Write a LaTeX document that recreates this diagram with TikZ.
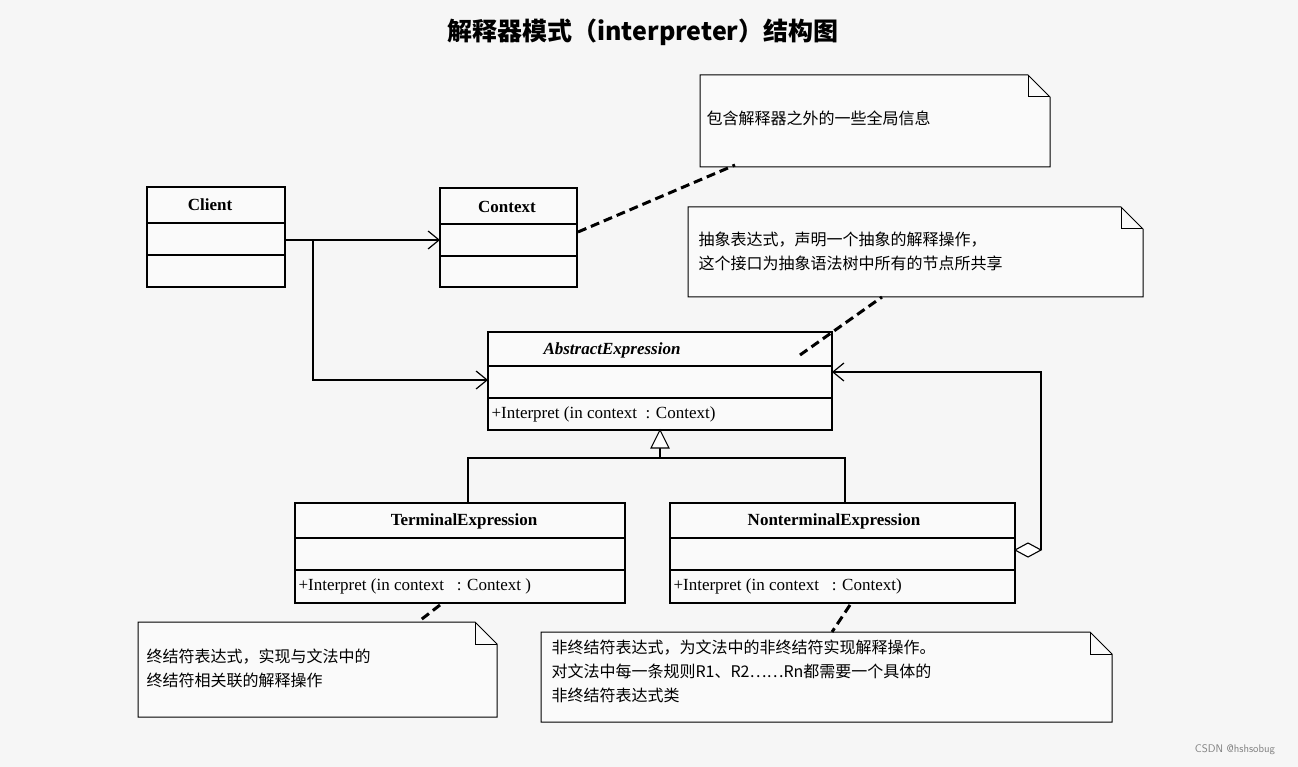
\documentclass[tikz,border=0pt]{standalone}
\usepackage{fontspec}
\setmainfont{Liberation Serif}
\newfontfamily\cjk{Noto Sans CJK SC}
\usetikzlibrary{arrows.meta}
\begin{document}
\begin{tikzpicture}[x=1pt,y=-1pt,
  bx/.style={draw=black,line width=1.3pt},
  cls/.style={font=\bfseries\fontsize{17}{20}\selectfont},
  op/.style={font=\fontsize{17}{20}\selectfont,anchor=west},
  nt/.style={font=\cjk\fontsize{16}{24}\selectfont,anchor=north west,align=left},
  dsh/.style={dash pattern=on 9pt off 5pt,line width=3pt},
  oa/.style={-{Straight Barb[length=11pt,width=18pt,line width=1.2pt]},line width=1.1pt}]
\fill[white!93!gray] (0,0) rectangle (1298,767);
\useasboundingbox (0,0) rectangle (1298,767);
\node[font=\cjk\bfseries\fontsize{25}{30}\selectfont] (title) at (643,32) {解释器模式（interpreter）结构图};
% notes
\newcommand{\notebox}[4]{\draw[line width=1pt,fill=white!96!gray] (#1,#2) -- (#3-22,#2) -- (#3,#2+22) -- (#3,#4) -- (#1,#4) -- cycle;
 \draw[line width=1pt] (#3-22,#2) -- (#3-22,#2+22) -- (#3,#2+22);}
\notebox{700}{75}{1050}{167}
\notebox{688}{207}{1143}{297}
\notebox{138}{622}{497}{717}
\notebox{541}{632}{1112}{722}
\node[nt] (n1) at (703,107) {包含解释器之外的一些全局信息};
\node[nt] (n2) at (695,228) {抽象表达式，声明一个抽象的解释操作，\\这个接口为抽象语法树中所有的节点所共享};
\node[nt] (n3) at (143,645) {终结符表达式，实现与文法中的\\终结符相关联的解释操作};
\node[nt] (n4) at (548,636) {非终结符表达式，为文法中的非终结符实现解释操作。\\对文法中每一条规则R1、R2……Rn都需要一个具体的\\非终结符表达式类};
% classes
\draw[bx,fill=white!96!gray] (147,187) rectangle (285,287); \draw[bx] (147,223)--(285,223) (147,255)--(285,255);
\node[cls] (client) at (210,205) {Client};
\draw[bx,fill=white!96!gray] (440,188) rectangle (577,287); \draw[bx] (440,224)--(577,224) (440,256)--(577,256);
\node[cls] (context) at (507,207) {Context};
\draw[bx,fill=white!96!gray] (488,332) rectangle (832,430); \draw[bx] (488,366)--(832,366) (488,398)--(832,398);
\node[cls,font=\bfseries\itshape\fontsize{17}{20}\selectfont] (abs) at (612,350) {AbstractExpression};
\node[op] (absop) at (488,414) {+Interpret (in context \ : Context)};
\draw[bx,fill=white!96!gray] (295,503) rectangle (625,603); \draw[bx] (295,538)--(625,538) (295,570)--(625,570);
\node[cls] (term) at (464,521) {TerminalExpression};
\node[op] (termop) at (295,586) {+Interpret (in context \ \ : Context )};
\draw[bx,fill=white!96!gray] (670,503) rectangle (1015,603); \draw[bx] (670,538)--(1015,538) (670,570)--(1015,570);
\node[cls] (nonterm) at (834,521) {NonterminalExpression};
\node[op] (ntop) at (670,586) {+Interpret (in context \ \ : Context)};
% connectors
\coordinate (c1) at (285,240); \coordinate (c2) at (440,240);
\draw[oa] (c1) -- (c2);
\coordinate (c3) at (313,240); \coordinate (c4) at (488,380);
\draw[oa] (c3) |- (c4);
\draw[line width=1.1pt] (468,503) -- (468,458) -- (845,458) -- (845,503);
\draw[line width=1.1pt] (660,458) -- (660,448);
\draw[line width=1.1pt,fill=white] (660,430) -- (651,448) -- (669,448) -- cycle;
\draw[line width=1.1pt,fill=white] (1015,550) -- (1028,543) -- (1041,550) -- (1028,557) -- cycle;
\coordinate (c5) at (1041,550); \coordinate (c6) at (832,372);
\draw[oa] (c5) -- (1041,372) -- (c6);
\draw[dsh] (578,232) -- (735,165);
\draw[dsh] (800,355) -- (882,297);
\draw[dsh] (440,605) -- (418,622);
\draw[dsh] (850,605) -- (832,632);
\node[font=\fontsize{11}{13}\selectfont\sffamily,text=gray] (wm) at (1235,750) {CSDN @hshsobug};
\end{tikzpicture}
\end{document}
